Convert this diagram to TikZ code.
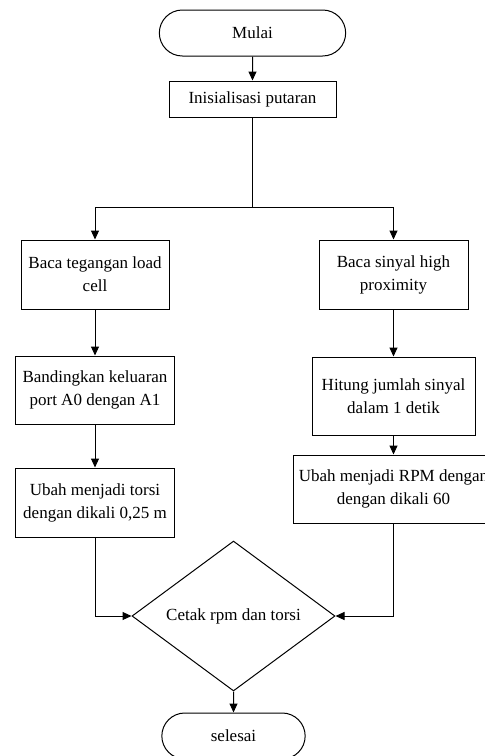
\documentclass[tikz,border=0pt]{standalone}
\usepackage{fontspec}
\setmainfont{Liberation Serif}
\usetikzlibrary{shapes.geometric, shapes.misc, arrows.meta, positioning}

\begin{document}
\begin{tikzpicture}[x=1pt, y=-1pt, line width=1pt,
  >={Triangle[length=9pt,width=8pt]},
  every node/.style={font=\fontsize{17}{23}\selectfont, align=center},
  proses/.style={draw, rectangle, inner sep=2pt},
  terminal/.style={draw, rounded rectangle, minimum height=46pt},
  keputusan/.style={draw, diamond, inner sep=0pt, minimum width=203pt, minimum height=101pt}]
  \useasboundingbox (0,0) rectangle (485,756);
  \clip (0,0) rectangle (485,756);
  \node[terminal, minimum width=193pt] (mulai) at (252.5,33) {Mulai};
  \node[proses, minimum width=167pt, minimum height=36pt] (init) at (252.5,99) {Inisialisasi putaran};
  \node[proses, minimum width=148pt, minimum height=69pt] (baca1) at (95,274.5) {Baca tegangan load\\cell};
  \node[proses, minimum width=159pt, minimum height=68pt] (banding) at (95,390) {Bandingkan keluaran\\port A0 dengan A1};
  \node[proses, minimum width=159pt, minimum height=69pt] (ubah1) at (95,502.5) {Ubah menjadi torsi\\dengan dikali 0,25 m};
  \node[proses, minimum width=149pt, minimum height=69pt] (baca2) at (393.5,274.5) {Baca sinyal high\\proximity};
  \node[proses, minimum width=163pt, minimum height=78pt] (hitung) at (393.5,396) {Hitung jumlah sinyal\\dalam 1 detik};
  \node[proses, minimum width=201pt, minimum height=68pt] (ubah2) at (393.5,489) {Ubah menjadi RPM dengan\\dengan dikali 60};
  \node[keputusan] (cetak) at (233.5,616) {Cetak rpm dan torsi};
  \node[terminal, minimum width=150pt] (selesai) at (233.5,736) {selesai};
  \coordinate (cabang) at (252.5,207);
  \draw[->] (mulai) -- (init);
  \draw[->] (init) -- (cabang) -| (baca1);
  \draw[->] (cabang) -| (baca2);
  \draw[->] (baca1) -- (banding);
  \draw[->] (banding) -- (ubah1);
  \draw[->] (baca2) -- (hitung);
  \draw[->] (hitung) -- (ubah2);
  \draw[->] (ubah1.south) |- (cetak.west);
  \draw[->] (ubah2.south) |- (cetak.east);
  \draw[->] (cetak) -- (selesai);
\end{tikzpicture}
\end{document}
